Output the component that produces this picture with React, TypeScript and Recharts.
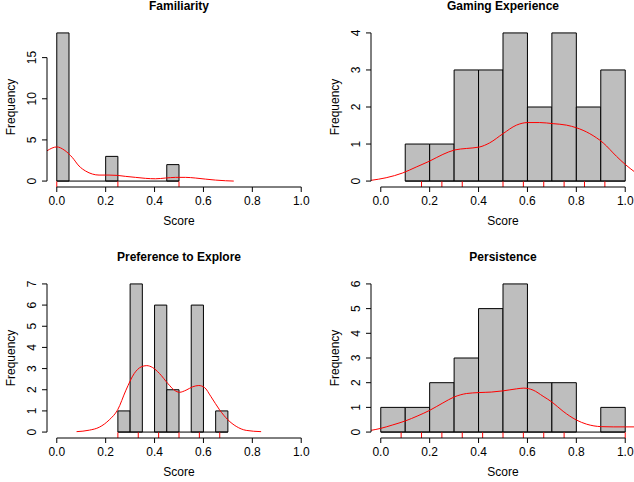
import React from 'react';
import { ComposedChart, Line, XAxis, YAxis, ReferenceArea, ReferenceLine } from 'recharts';

const FONT = '"Liberation Sans", Arial, Helvetica, sans-serif';
const xTicks = [0, 0.2, 0.4, 0.6, 0.8, 1];

// Familiarity
const famBreaks = [0, 0.05, 0.1, 0.15, 0.2, 0.25, 0.3, 0.35, 0.4, 0.45, 0.5];
const famCounts = [18, 0, 0, 0, 3, 0, 0, 0, 0, 2];
const famRug = [0, 0.25, 0.5];
const famYTicks = [0, 5, 10, 15];
const famDensX = [-0.04, 0, 0.03, 0.064, 0.091, 0.118, 0.146, 0.173, 0.214, 0.248, 0.282, 0.322, 0.363, 0.404, 0.445, 0.486, 0.527, 0.567, 0.608, 0.649, 0.69, 0.724];
const famDensY = [3.68, 4.15, 3.78, 2.85, 1.83, 1.22, 0.85, 0.73, 0.73, 0.69, 0.57, 0.45, 0.33, 0.28, 0.37, 0.45, 0.45, 0.37, 0.24, 0.12, 0.04, 0];

// Gaming Experience
const gamBreaks = [0.1, 0.2, 0.3, 0.4, 0.5, 0.6, 0.7, 0.8, 0.9, 1.0];
const gamCounts = [1, 1, 3, 3, 4, 2, 4, 2, 3];
const gamRug = [0.1667, 0.25, 0.3333, 0.5, 0.5833, 0.6667, 0.75, 0.8333, 0.9167];
const gamYTicks = [0, 1, 2, 3, 4];
const gamDensX = [-0.04, 0.022, 0.09, 0.145, 0.2, 0.254, 0.302, 0.35, 0.404, 0.445, 0.5, 0.555, 0.601, 0.65, 0.705, 0.76, 0.8, 0.855, 0.91, 0.964, 1.0, 1.04];
const gamDensY = [0.02, 0.09, 0.22, 0.38, 0.54, 0.72, 0.84, 0.88, 0.92, 1.03, 1.28, 1.51, 1.58, 1.58, 1.55, 1.51, 1.44, 1.28, 1.03, 0.67, 0.45, 0.24];

// Preference to Explore
const prefBreaks = [0.25, 0.3, 0.35, 0.4, 0.45, 0.5, 0.55, 0.6, 0.65, 0.7];
const prefCounts = [1, 7, 0, 6, 2, 0, 6, 0, 1];
const prefRug = [0.25, 0.3333, 0.4167, 0.5, 0.5833, 0.6667];
const prefYTicks = [0, 1, 2, 3, 4, 5, 6, 7];
const prefDensX = [0.081, 0.133, 0.174, 0.215, 0.249, 0.283, 0.317, 0.345, 0.368, 0.392, 0.42, 0.454, 0.481, 0.502, 0.529, 0.556, 0.581, 0.604, 0.631, 0.666, 0.7, 0.734, 0.775, 0.836];
const prefDensY = [0.02, 0.09, 0.23, 0.58, 1.05, 1.98, 2.77, 3.08, 3.14, 3.05, 2.77, 2.3, 1.98, 1.88, 1.98, 2.14, 2.2, 2.11, 1.67, 1.05, 0.58, 0.27, 0.08, 0.02];

// Persistence
const perBreaks = [0, 0.1, 0.2, 0.3, 0.4, 0.5, 0.6, 0.7, 0.8, 0.9, 1.0];
const perCounts = [1, 1, 2, 3, 5, 6, 2, 2, 0, 1];
const perRug = [0.0833, 0.1667, 0.25, 0.3333, 0.4167, 0.5, 0.5833, 0.6667, 0.75, 1.0];
const perYTicks = [0, 1, 2, 3, 4, 5, 6];
const perDensX = [-0.04, 0, 0.049, 0.1, 0.152, 0.2, 0.254, 0.3, 0.35, 0.402, 0.452, 0.501, 0.555, 0.585, 0.623, 0.664, 0.701, 0.746, 0.8, 0.842, 0.902, 0.951, 1.0, 1.04];
const perDensY = [0.07, 0.15, 0.29, 0.45, 0.66, 0.88, 1.18, 1.42, 1.56, 1.6, 1.62, 1.67, 1.75, 1.78, 1.7, 1.45, 1.21, 0.84, 0.49, 0.32, 0.22, 0.21, 0.21, 0.21];

const W = 318;
const H = 241;
const M_TOP = 37;
const Y_W = 54;
const X_H = 44;
const PLOT_W = W - Y_W;
const PLOT_H = H - M_TOP - X_H;

const XTick = ({ x, y, payload }: any) => (
  <text x={x} y={y + 12.7} textAnchor="middle" fontSize={12} fontFamily={FONT} fill="#000">
    {Number(payload.value).toFixed(1)}
  </text>
);

const YTick = ({ x, y, payload }: any) => (
  <text
    transform={`translate(${x - 6},${y}) rotate(-90)`}
    textAnchor="middle"
    fontSize={12}
    fontFamily={FONT}
    fill="#000"
  >
    {payload.value}
  </text>
);

interface PanelProps {
  title: string;
  breaks: number[];
  counts: number[];
  rug: number[];
  yTicks: number[];
  densX: number[];
  densY: number[];
  left: number;
  top: number;
}

function HistPanel({ title, breaks, counts, rug, yTicks, densX, densY, left, top }: PanelProps) {
  const data = densX.map((x, i) => ({ x, y: densY[i] }));
  const ymax = Math.max(...counts);
  const y0 = -0.04 * ymax;
  const y1 = 1.04 * ymax;
  const rugTop = y0 + 0.035 * (y1 - y0);

  return (
    <div style={{ position: 'absolute', left, top, width: W, height: H }}>
      <ComposedChart width={W} height={H} data={data} margin={{ top: M_TOP, right: 0, bottom: 0, left: 0 }}>
        <XAxis
          dataKey="x"
          type="number"
          domain={[-0.04, 1.04]}
          ticks={xTicks}
          allowDataOverflow
          interval={0}
          axisLine={false}
          tickLine={{ stroke: '#000' }}
          tickSize={5}
          tickMargin={0}
          tick={XTick}
          height={X_H}
        />
        <YAxis
          type="number"
          domain={[y0, y1]}
          ticks={yTicks}
          allowDataOverflow
          interval={0}
          axisLine={false}
          tickLine={{ stroke: '#000' }}
          tickSize={5}
          tickMargin={0}
          tick={YTick}
          width={Y_W}
        />
        {counts.map((c, i) =>
          c > 0 ? (
            <ReferenceArea
              key={'bin' + i}
              x1={breaks[i]}
              x2={breaks[i + 1]}
              y1={0}
              y2={c}
              fill="#BEBEBE"
              fillOpacity={1}
              stroke="#000"
              strokeWidth={1}
              ifOverflow="visible"
            />
          ) : null
        )}
        <ReferenceLine
          segment={[{ x: breaks[0], y: 0 }, { x: breaks[breaks.length - 1], y: 0 }]}
          stroke="#000"
          ifOverflow="visible"
        />
        <Line
          type="monotone"
          dataKey="y"
          stroke="#FF0000"
          strokeWidth={1}
          dot={false}
          activeDot={false}
          isAnimationActive={false}
        />
        {rug.map((r, i) => (
          <ReferenceLine
            key={'rug' + i}
            segment={[{ x: r, y: y0 }, { x: r, y: rugTop }]}
            stroke="#FF0000"
            strokeWidth={1}
            ifOverflow="visible"
          />
        ))}
        <ReferenceLine
          segment={[{ x: 0, y: y0 }, { x: 1, y: y0 }]}
          stroke="#000"
          ifOverflow="visible"
        />
        <ReferenceLine
          segment={[{ x: -0.04, y: yTicks[0] }, { x: -0.04, y: yTicks[yTicks.length - 1] }]}
          stroke="#000"
          ifOverflow="visible"
        />
      </ComposedChart>
      <svg
        width={W}
        height={H}
        style={{ position: 'absolute', left: 0, top: 0, pointerEvents: 'none' }}
      >
        <text x={Y_W + PLOT_W / 2} y={20.2} textAnchor="middle" fontSize={12} fontWeight="bold" fontFamily={FONT} fill="#000">
          {title}
        </text>
        <text x={Y_W + PLOT_W / 2} y={M_TOP + PLOT_H + 37.7} textAnchor="middle" fontSize={12} fontFamily={FONT} fill="#000">
          Score
        </text>
        <text
          transform={`translate(${Y_W - 32},${M_TOP + PLOT_H / 2}) rotate(-90)`}
          textAnchor="middle"
          fontSize={12}
          fontFamily={FONT}
          fill="#000"
        >
          Frequency
        </text>
      </svg>
    </div>
  );
}

export default function App() {
  return (
    <div style={{ position: 'absolute', left: 0, top: 0, width: 634, height: 482, overflow: 'hidden', background: '#fff' }}>
      <HistPanel title="Familiarity" breaks={famBreaks} counts={famCounts} rug={famRug} yTicks={famYTicks} densX={famDensX} densY={famDensY} left={-6.7} top={-9.7} />
      <HistPanel title="Gaming Experience" breaks={gamBreaks} counts={gamCounts} rug={gamRug} yTicks={gamYTicks} densX={gamDensX} densY={gamDensY} left={317} top={-9.7} />
      <HistPanel title="Preference to Explore" breaks={prefBreaks} counts={prefCounts} rug={prefRug} yTicks={prefYTicks} densX={prefDensX} densY={prefDensY} left={-6.7} top={241} />
      <HistPanel title="Persistence" breaks={perBreaks} counts={perCounts} rug={perRug} yTicks={perYTicks} densX={perDensX} densY={perDensY} left={317} top={241} />
    </div>
  );
}
